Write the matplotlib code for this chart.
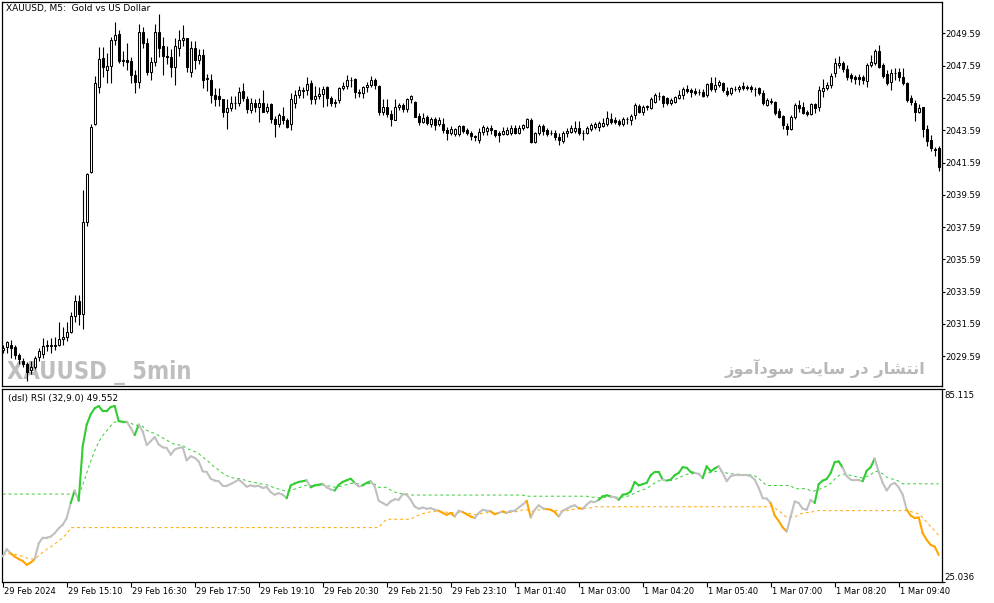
import numpy as np
import matplotlib
matplotlib.use("Agg")
import matplotlib.pyplot as plt
from matplotlib.collections import LineCollection
from matplotlib import font_manager
import matplotlib.transforms as mtransforms

# XAUUSD M5 candles, 29 Feb 13:50 .. 1 Mar 10:30
opens = [
    2030.0, 2030.15, 2030.3, 2030.15, 2029.65, 2029.3, 2029.1, 2028.7, 2028.9, 2029.55,
    2029.7, 2030.2, 2030.3, 2030.2, 2030.3, 2030.65, 2030.8, 2031.1, 2032.1, 2033.0,
    2032.2, 2037.9, 2041.0, 2044.0, 2046.3, 2048.07, 2047.3, 2047.6, 2049.2, 2049.55,
    2047.9, 2047.95, 2047.9, 2047.0, 2046.6, 2049.7, 2049.0, 2047.2, 2047.8, 2049.7,
    2048.8, 2048.2, 2048.1, 2047.5, 2048.7, 2049.2, 2049.3, 2047.2, 2048.7, 2047.95,
    2048.25, 2046.8, 2046.7, 2045.8, 2045.7, 2045.5, 2044.7, 2044.95, 2045.25, 2045.3,
    2046.0, 2045.5, 2044.85, 2045.3, 2045.0, 2045.3, 2044.8, 2045.2, 2044.3, 2044.0,
    2044.5, 2044.2, 2043.95, 2045.3, 2045.8, 2046.05, 2046.1, 2046.5, 2045.5, 2045.7,
    2045.85, 2046.25, 2045.6, 2045.3, 2045.45, 2046.2, 2046.35, 2046.7, 2046.75, 2045.95,
    2045.9, 2046.25, 2046.4, 2046.7, 2046.35, 2044.74, 2045.05, 2044.59, 2044.25, 2045.05,
    2045.15, 2044.9, 2045.55, 2045.36, 2044.47, 2044.12, 2044.39, 2043.97, 2044.26, 2043.97,
    2043.97, 2043.6, 2043.45, 2043.35, 2043.35, 2043.85, 2043.6, 2043.39, 2043.23, 2042.98,
    2043.5, 2043.55, 2043.7, 2043.6, 2043.43, 2043.35, 2043.35, 2043.4, 2043.7, 2043.43,
    2043.7, 2043.81, 2044.22, 2042.88, 2043.4, 2043.85, 2043.6, 2043.43, 2043.45, 2043.19,
    2042.94, 2043.4, 2043.5, 2043.56, 2043.7, 2043.45, 2043.43, 2043.64, 2043.77, 2043.77,
    2043.85, 2043.97, 2044.26, 2044.22, 2044.18, 2043.97, 2044.26, 2044.22, 2044.53, 2045.09,
    2044.74, 2045.05, 2044.94, 2045.36, 2045.7, 2045.7, 2045.56, 2045.25, 2045.36, 2045.56,
    2045.77, 2046.16, 2046.08, 2046.02, 2045.96, 2045.98, 2045.77, 2046.49, 2046.12, 2046.39,
    2046.53, 2046.04, 2045.87, 2046.16, 2046.12, 2046.33, 2046.29, 2046.25, 2046.12, 2046.18,
    2045.91, 2045.15, 2045.36, 2045.36, 2044.8, 2044.47, 2043.85, 2043.64, 2044.39, 2045.15,
    2045.05, 2044.74, 2044.59, 2045.21, 2045.05, 2046.04, 2046.18, 2046.39, 2047.11, 2047.65,
    2047.77, 2047.36, 2047.0, 2046.87, 2046.87, 2046.87, 2046.66, 2047.63, 2047.77, 2048.52,
    2047.63, 2047.07, 2046.6, 2047.15, 2047.22, 2046.87, 2046.49, 2045.56, 2045.3, 2044.74,
    2045.0, 2043.64, 2042.98, 2042.4, 2042.46,
]
highs = [
    2030.3, 2030.5, 2030.6, 2030.3, 2029.8, 2029.5, 2029.2, 2029.3, 2029.6, 2030.1,
    2030.7, 2030.6, 2030.7, 2030.75, 2031.7, 2031.4, 2031.7, 2032.3, 2033.4, 2033.4,
    2039.9, 2040.95, 2044.0, 2046.97, 2048.75, 2048.75, 2048.4, 2049.4, 2050.3, 2049.8,
    2048.5, 2049.0, 2048.1, 2047.3, 2050.2, 2050.0, 2049.3, 2048.1, 2050.2, 2050.8,
    2049.4, 2048.8, 2048.6, 2049.3, 2049.8, 2050.1, 2049.3, 2049.1, 2049.1, 2048.6,
    2048.6, 2047.1, 2047.1, 2046.2, 2046.2, 2045.5, 2045.5, 2045.7, 2045.7, 2046.3,
    2046.5, 2045.7, 2045.6, 2045.5, 2045.6, 2046.1, 2045.25, 2045.3, 2044.5, 2044.65,
    2045.0, 2044.35, 2045.9, 2046.1, 2046.35, 2046.3, 2046.9, 2046.7, 2046.35, 2046.3,
    2046.35, 2046.35, 2045.7, 2045.55, 2046.3, 2046.6, 2047.0, 2046.9, 2046.85, 2046.15,
    2046.35, 2046.6, 2046.95, 2046.8, 2046.4, 2045.5, 2045.55, 2044.85, 2045.55, 2045.3,
    2045.3, 2045.6, 2045.75, 2045.4, 2044.67, 2044.67, 2044.53, 2044.39, 2044.39, 2044.39,
    2044.32, 2043.8, 2043.85, 2043.75, 2043.9, 2043.91, 2043.7, 2043.56, 2043.3, 2043.7,
    2043.9, 2043.85, 2043.9, 2043.6, 2043.56, 2043.81, 2043.81, 2043.9, 2043.9, 2043.9,
    2043.97, 2044.32, 2044.32, 2043.5, 2044.0, 2043.97, 2043.7, 2043.6, 2043.6, 2043.4,
    2043.56, 2043.7, 2043.9, 2044.18, 2044.18, 2043.6, 2043.85, 2044.06, 2044.12, 2044.18,
    2044.32, 2044.8, 2044.63, 2044.43, 2044.26, 2044.39, 2044.43, 2044.59, 2045.25, 2045.21,
    2045.15, 2045.15, 2045.63, 2045.87, 2045.97, 2045.77, 2045.67, 2045.56, 2045.7, 2046.08,
    2046.25, 2046.39, 2046.18, 2046.18, 2046.12, 2046.12, 2046.53, 2046.87, 2046.87, 2046.7,
    2046.6, 2046.25, 2046.29, 2046.33, 2046.39, 2046.6, 2046.39, 2046.39, 2046.29, 2046.29,
    2046.08, 2045.56, 2045.56, 2045.42, 2044.94, 2044.53, 2044.01, 2044.53, 2045.3, 2045.46,
    2045.36, 2044.84, 2045.3, 2045.3, 2046.33, 2046.74, 2046.6, 2047.15, 2048.04, 2048.19,
    2047.9, 2047.63, 2047.11, 2047.01, 2047.07, 2047.01, 2047.73, 2048.25, 2048.6, 2048.87,
    2047.73, 2047.32, 2047.36, 2047.42, 2047.42, 2047.42, 2046.6, 2045.77, 2045.46, 2045.21,
    2045.05, 2043.91, 2043.29, 2042.57, 2042.61,
]
lows = [
    2029.8, 2029.8, 2029.5, 2029.4, 2029.1, 2028.9, 2028.05, 2028.5, 2028.8, 2029.3,
    2029.5, 2029.9, 2029.8, 2030.0, 2030.2, 2030.3, 2030.5, 2031.0, 2031.7, 2031.5,
    2031.3, 2037.65, 2040.95, 2043.9, 2045.9, 2046.9, 2046.5, 2046.5, 2048.9, 2047.75,
    2047.55, 2047.3, 2046.5, 2045.9, 2046.2, 2048.7, 2047.0, 2046.7, 2047.6, 2048.1,
    2047.0, 2047.7, 2046.9, 2046.4, 2048.2, 2048.8, 2047.2, 2046.9, 2047.4, 2047.7,
    2046.2, 2046.0, 2045.3, 2045.1, 2045.1, 2044.4, 2043.65, 2044.8, 2044.9, 2045.1,
    2045.4, 2044.65, 2044.65, 2044.7, 2044.1, 2044.7, 2044.65, 2044.05, 2043.2, 2043.8,
    2044.0, 2043.7, 2043.6, 2044.95, 2045.6, 2045.6, 2045.8, 2045.2, 2045.2, 2045.5,
    2045.0, 2045.1, 2045.1, 2045.0, 2045.3, 2046.1, 2046.15, 2046.25, 2045.6, 2045.65,
    2045.6, 2045.95, 2046.3, 2046.15, 2044.55, 2044.55, 2044.4, 2043.85, 2044.2, 2044.85,
    2044.75, 2044.75, 2045.3, 2044.39, 2043.91, 2044.01, 2043.91, 2043.81, 2043.6, 2043.85,
    2043.43, 2043.0, 2043.3, 2043.25, 2043.25, 2043.43, 2043.29, 2042.98, 2042.9, 2042.8,
    2043.29, 2043.29, 2043.35, 2043.19, 2042.88, 2043.29, 2043.29, 2043.3, 2043.35, 2043.35,
    2043.6, 2043.7, 2042.78, 2042.78, 2043.29, 2043.29, 2043.23, 2043.29, 2042.98, 2042.67,
    2042.82, 2043.15, 2043.4, 2043.43, 2043.29, 2042.98, 2043.35, 2043.56, 2043.64, 2043.56,
    2043.81, 2043.85, 2043.97, 2043.97, 2043.85, 2043.85, 2044.0, 2043.91, 2044.26, 2044.63,
    2044.53, 2044.84, 2044.88, 2045.3, 2045.46, 2045.0, 2045.15, 2045.15, 2045.3, 2045.5,
    2045.5, 2045.91, 2045.67, 2045.77, 2045.77, 2045.63, 2045.67, 2046.04, 2045.98, 2046.29,
    2045.98, 2045.71, 2045.77, 2046.04, 2045.98, 2046.08, 2046.08, 2045.98, 2045.71, 2045.77,
    2045.15, 2045.09, 2045.21, 2044.53, 2044.32, 2043.64, 2043.29, 2043.6, 2044.26, 2044.74,
    2044.59, 2044.47, 2044.53, 2044.63, 2044.8, 2045.67, 2046.08, 2046.18, 2046.91, 2047.42,
    2047.22, 2046.7, 2046.6, 2046.45, 2046.39, 2046.45, 2046.29, 2047.53, 2047.63, 2047.42,
    2046.8, 2046.39, 2046.08, 2046.7, 2046.66, 2046.39, 2045.36, 2045.15, 2044.18, 2044.63,
    2043.15, 2042.61, 2042.32, 2041.99, 2041.08,
]
closes = [
    2030.1, 2030.46, 2030.1, 2029.65, 2029.4, 2029.1, 2028.6, 2028.9, 2029.5, 2029.92,
    2030.2, 2030.3, 2030.2, 2030.3, 2030.65, 2030.8, 2031.1, 2032.1, 2033.0, 2032.2,
    2037.9, 2040.9, 2043.8, 2046.5, 2048.0, 2047.5, 2047.6, 2049.2, 2049.5, 2047.9,
    2047.95, 2047.8, 2047.0, 2046.6, 2049.7, 2049.0, 2047.2, 2047.8, 2049.7, 2048.7,
    2048.2, 2048.15, 2047.5, 2048.8, 2049.2, 2049.3, 2047.5, 2048.7, 2047.95, 2048.25,
    2046.7, 2046.75, 2045.75, 2045.5, 2045.5, 2044.7, 2044.95, 2045.25, 2045.3, 2045.95,
    2045.6, 2044.9, 2045.3, 2045.0, 2045.3, 2044.75, 2045.05, 2044.3, 2043.95, 2044.55,
    2044.2, 2043.8, 2045.5, 2045.8, 2046.1, 2046.1, 2046.45, 2045.5, 2045.7, 2045.85,
    2046.15, 2045.6, 2045.3, 2045.32, 2046.2, 2046.35, 2046.7, 2046.72, 2045.95, 2045.9,
    2046.25, 2046.4, 2046.7, 2046.4, 2044.75, 2045.05, 2044.59, 2044.26, 2045.05, 2045.15,
    2044.9, 2045.55, 2045.7, 2044.43, 2044.12, 2044.32, 2044.01, 2044.26, 2043.91, 2044.22,
    2043.6, 2043.45, 2043.65, 2043.64, 2043.85, 2043.56, 2043.39, 2043.23, 2043.15, 2043.5,
    2043.8, 2043.72, 2043.6, 2043.29, 2043.29, 2043.56, 2043.6, 2043.7, 2043.4, 2043.7,
    2043.9, 2044.26, 2042.88, 2043.4, 2043.85, 2043.56, 2043.35, 2043.39, 2043.19, 2042.98,
    2043.43, 2043.56, 2043.7, 2043.7, 2043.4, 2043.39, 2043.7, 2043.9, 2043.97, 2044.02,
    2044.06, 2044.32, 2044.12, 2044.1, 2043.97, 2044.26, 2044.3, 2044.47, 2045.15, 2044.74,
    2045.05, 2045.05, 2045.5, 2045.77, 2045.72, 2045.25, 2045.25, 2045.46, 2045.63, 2045.77,
    2046.12, 2046.04, 2045.96, 2045.87, 2045.94, 2045.71, 2046.45, 2046.12, 2046.39, 2046.6,
    2046.08, 2045.83, 2046.18, 2046.16, 2046.29, 2046.18, 2046.18, 2046.12, 2046.12, 2045.87,
    2045.3, 2045.46, 2045.36, 2044.67, 2044.39, 2043.91, 2043.64, 2044.39, 2045.15, 2044.94,
    2044.67, 2044.59, 2045.21, 2044.94, 2046.08, 2046.18, 2046.39, 2046.95, 2047.73, 2047.77,
    2047.36, 2046.87, 2046.8, 2046.74, 2046.74, 2046.7, 2047.63, 2047.84, 2048.52, 2047.49,
    2046.95, 2046.53, 2047.15, 2047.15, 2046.87, 2046.53, 2045.46, 2045.36, 2044.74, 2044.94,
    2043.64, 2042.94, 2042.46, 2042.36, 2041.33,
]

# (dsl) RSI(32, 9) values
rsi = [
    32.9, 35.2, 33.9, 32.9, 32.1, 31.5, 30.3, 31.0, 32.1, 37.0, 38.8, 38.8, 39.1, 40.2, 41.7, 42.8, 44.9, 49.6, 53.5, 50.3,
    67.3, 74.1, 77.3, 79.2, 79.9, 78.3, 78.3, 79.6, 79.9, 75.2, 75.0, 75.0, 73.1, 70.8, 74.1, 72.0, 67.7, 68.9, 70.2, 67.9,
    67.0, 66.8, 64.7, 66.3, 66.8, 67.0, 62.9, 64.2, 63.7, 62.6, 59.5, 59.3, 57.2, 56.6, 56.4, 55.0, 55.0, 55.5, 56.2, 56.9,
    55.9, 54.7, 55.1, 54.8, 55.0, 54.3, 54.6, 53.0, 52.2, 52.7, 52.2, 51.1, 55.1, 55.7, 56.2, 56.4, 56.7, 54.5, 55.1, 55.3,
    55.6, 54.5, 53.8, 53.5, 55.3, 56.2, 56.7, 57.2, 55.9, 54.8, 55.1, 55.9, 56.4, 54.8, 50.3, 49.6, 48.9, 50.1, 50.8, 50.6,
    52.4, 52.2, 50.6, 48.5, 47.8, 48.2, 47.8, 48.0, 47.5, 47.2, 46.5, 45.9, 46.5, 45.4, 47.2, 46.8, 46.1, 45.4, 44.9, 46.5,
    47.5, 47.2, 47.0, 46.1, 46.5, 47.0, 46.5, 47.2, 47.2, 48.2, 49.1, 50.3, 45.1, 47.5, 48.9, 48.0, 47.7, 47.5, 46.8, 45.4,
    47.2, 47.8, 48.5, 48.9, 48.0, 47.8, 49.1, 50.1, 49.9, 50.6, 51.7, 52.0, 51.7, 51.4, 50.6, 52.2, 52.4, 53.2, 56.2, 55.1,
    55.5, 55.9, 58.3, 59.3, 59.3, 56.9, 56.6, 56.9, 58.3, 59.0, 60.8, 60.6, 59.3, 59.0, 58.7, 57.4, 61.1, 59.5, 60.4, 61.1,
    59.0, 56.4, 58.0, 58.3, 58.3, 58.3, 58.3, 58.0, 56.9, 54.3, 51.1, 51.0, 49.6, 45.7, 44.0, 42.0, 40.7, 45.4, 50.1, 49.6,
    47.8, 47.5, 50.6, 49.6, 55.5, 56.6, 57.1, 59.0, 62.4, 62.6, 60.6, 58.0, 56.9, 56.7, 56.7, 56.4, 59.7, 60.8, 63.5, 59.3,
    55.9, 53.5, 55.3, 55.9, 54.5, 52.2, 47.5, 45.7, 44.9, 45.1, 40.2, 38.1, 36.5, 36.0, 33.4,
]
level_up_start = 52.4   # upper signal line before the first visible bar
level_dn_start = 33.5   # lower signal line before the first visible bar
rsi_max, rsi_min = 85.115, 25.036

price_ticks = [2029.59, 2031.59, 2033.59, 2035.59, 2037.59, 2039.59,
               2041.59, 2043.59, 2045.59, 2047.59, 2049.59]
time_ticks = [0, 16, 32, 48, 64, 80, 96, 112, 128, 144, 160, 176, 192, 208, 224]
time_labels = ["29 Feb 2024", "29 Feb 15:10", "29 Feb 16:30", "29 Feb 17:50",
               "29 Feb 19:10", "29 Feb 20:30", "29 Feb 21:50", "29 Feb 23:10",
               "1 Mar 01:40", "1 Mar 03:00", "1 Mar 04:20", "1 Mar 05:40",
               "1 Mar 07:00", "1 Mar 08:20", "1 Mar 09:40"]

# Persian watermark, presentation forms in logical order (matplotlib has no shaping)
fa_logical = ("\uFE8D\uFEE7\uFE98\uFEB8\uFE8E\uFEAD" + " " + "\uFEA9\uFEAD" + " " +
              "\uFEB3\uFE8E\uFEF3\uFE96" + " " + "\uFEB3\uFEEE\uFEA9\uFE81\uFEE3\uFEEE\uFEAF")
fa_visual = fa_logical[::-1]

GREEN = "#32CD32"
ORANGE = "#FFA500"
SILVER = "#C0C0C0"
WM = "#BEBEBE"

o = np.array(opens); h = np.array(highs); l = np.array(lows); c = np.array(closes)
r = np.array(rsi)
n = len(c)
x = np.arange(n)

# discontinued signal lines: EMA(9) of rsi, updated only on its own side of 50
alpha = 2.0 / (9 + 1)
up_lvl, dn_lvl = [], []
u, d = level_up_start, level_dn_start
for v in r:
    if v > 50:
        u = u + alpha * (v - u)
    if v < 50:
        d = d + alpha * (v - d)
    up_lvl.append(u)
    dn_lvl.append(d)
up_lvl = np.array(up_lvl); dn_lvl = np.array(dn_lvl)
state = np.where(r > up_lvl, GREEN, np.where(r < dn_lvl, ORANGE, SILVER))

plt.rcParams["font.family"] = "DejaVu Sans"

W, H = 994, 603
fig = plt.figure(figsize=(W / 100, H / 100), dpi=100)
fig.patch.set_facecolor("white")

def box(x0, y0, x1, y1):
    return [x0 / W, 1 - y1 / H, (x1 - x0) / W, (y1 - y0) / H]

ax1 = fig.add_axes(box(2.3, 2.3, 941.5, 386.3))
ax2 = fig.add_axes(box(2.3, 389.3, 941.5, 581.7))

for ax in (ax1, ax2):
    ax.set_xlim(-0.1, 234.7)
    for s in ax.spines.values():
        s.set_color("black")
        s.set_linewidth(0.9)
    ax.yaxis.tick_right()

# --- price window
ax1.set_ylim(2027.72, 2051.52)
ax1.vlines(x, l, h, color="black", lw=0.8, zorder=2)
body_lo = np.minimum(o, c)
body_h = np.maximum(np.abs(c - o), 0.015)
ax1.bar(x, body_h, bottom=body_lo, width=0.55,
        color=np.where(c >= o, "white", "black"), edgecolor="black",
        linewidth=0.75, zorder=3)
ax1.set_yticks(price_ticks)
ax1.set_yticklabels(["%.2f" % t for t in price_ticks])
ax1.tick_params(axis="y", direction="out", length=2.5, width=0.8, pad=0.5, labelsize=6.2)
ax1.set_xticks([])

# narrow bold face for the symbol watermark, if one is installed
wm_prop = None
for f in font_manager.fontManager.ttflist:
    name = f.name + " " + f.fname
    narrowish = ("Condensed" in name or "Narrow" in name or
                 str(f.stretch) in ("condensed", "semi-condensed", "extra-condensed"))
    if narrowish and f.weight in ("bold", 700, "heavy", 800, 900, "black"):
        wm_prop = font_manager.FontProperties(fname=f.fname, size=17)
        break
if wm_prop is None:
    wm_prop = font_manager.FontProperties(family="DejaVu Sans", weight="bold", size=15)
fig.text(7 / W, 1 - 379 / H, "XAUUSD _ 5min", fontproperties=wm_prop,
         color=WM, va="baseline", zorder=0)
ax1.set_zorder(1)
ax1.patch.set_alpha(0)
fig.text(926 / W, 1 - 374 / H, fa_visual, family="DejaVu Sans", weight="bold",
         fontsize=11.7, color="#B8B8B8", ha="right", va="baseline")

fig.text(6 / W, 1 - 9 / H, "XAUUSD, M5:  Gold vs US Dollar", fontsize=6.5, va="center")

# --- RSI window
ax2.set_ylim(rsi_min, rsi_max)
segs = [[(x[i - 1], r[i - 1]), (x[i], r[i])] for i in range(1, n)]
ax2.add_collection(LineCollection(segs, colors=state[1:], linewidths=1.5,
                                  capstyle="round", zorder=3))
ax2.plot(x, up_lvl, color=GREEN, lw=0.7, ls=(0, (3, 3)), zorder=2)
ax2.plot(x, dn_lvl, color=ORANGE, lw=0.7, ls=(0, (3, 3)), zorder=2)
ax2.set_yticks([rsi_min, rsi_max])
ax2.set_yticklabels([])
ax2.tick_params(axis="y", direction="out", length=2.5, width=0.8)
fig.text(944 / W, 1 - 395 / H, "%.3f" % rsi_max, fontsize=6.2, va="center")
fig.text(944 / W, 1 - 577 / H, "%.3f" % rsi_min, fontsize=6.2, va="center")
fig.text(8 / W, 1 - 398 / H, "(dsl) RSI (32,9.0) 49.552", fontsize=6.5, va="center")

ax2.set_xticks(time_ticks)
ax2.set_xticklabels(time_labels)
ax2.tick_params(axis="x", direction="out", length=3.6, width=0.8, pad=0.5, labelsize=6)
shift = mtransforms.ScaledTranslation(1.5 / 100, 0, fig.dpi_scale_trans)
for lab in ax2.get_xticklabels():
    lab.set_horizontalalignment("left")
    lab.set_transform(lab.get_transform() + shift)

fig.savefig("out.png", dpi=100, facecolor="white")
